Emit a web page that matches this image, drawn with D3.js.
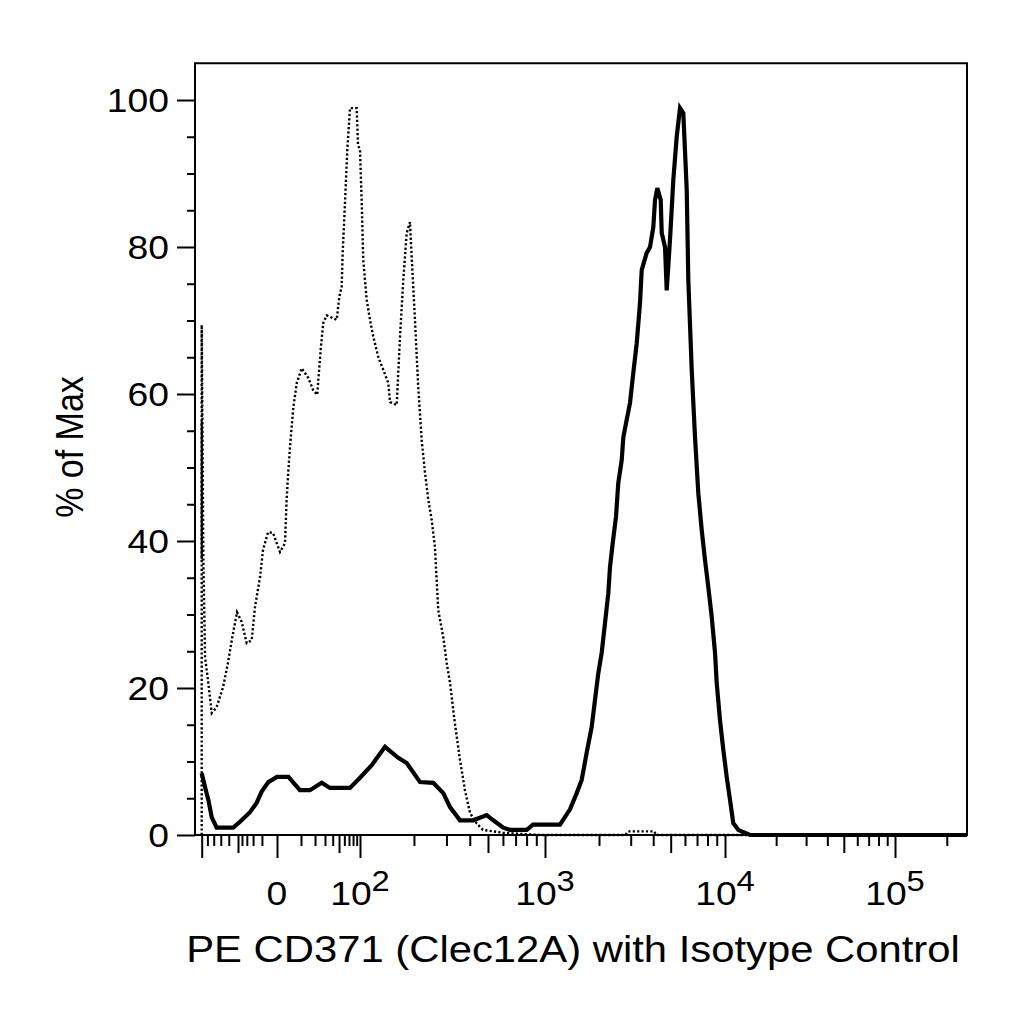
<!DOCTYPE html>
<html>
<head>
<meta charset="utf-8">
<script src="https://cdn.jsdelivr.net/npm/d3@7"></script>
<style>
  body { margin: 0; background: #fff; }
  text { font-family: "Liberation Sans", Arial, sans-serif; fill: #000; }
</style>
</head>
<body>
<svg id="chart" width="1024" height="1024"></svg>
<script>
// ---------------- data ----------------
// x = PE fluorescence intensity, y = % of max
const isotypeHistogram = [
  [-100, 0], [-100, 69.4], [-97, 37.5], [-94, 24.2], [-88.5, 20.7], [-83, 16.6], [-75.7, 17.4],
  [-67, 20.1], [-61, 23.4], [-56, 26.9], [-51, 30.3], [-40.6, 29.0], [-30.2, 26.1], [-22, 26.5],
  [-17.5, 31.0], [-11.8, 35.1], [-9.0, 38.8], [-5.1, 41.2], [-2.0, 41.1], [0.9, 38.5], [2.6, 39.7],
  [3.2, 45.6], [3.9, 49.7], [4.6, 53.0], [6.0, 58.1], [7.7, 61.5], [10.4, 63.5], [14.7, 62.2],
  [18.5, 60.5], [22.0, 59.9], [23.0, 61.9], [25.3, 66.0], [28.1, 69.7], [32.0, 70.7], [46.1, 70.1],
  [50.5, 73.2], [54.8, 74.6], [56.7, 79.2], [61.3, 86.0], [66.2, 93.2], [72.4, 98.9], [89.9, 98.9],
  [93.8, 93.9], [100, 93.2], [102.3, 86.0], [104.4, 78.2], [109.2, 72.8], [114, 70.1], [119, 67.8],
  [127, 65.0], [135.4, 63.3], [144.4, 61.5], [147.6, 58.9], [160.8, 58.5], [164, 62.9], [167.7, 67.8],
  [174.8, 75.5], [182.5, 81.9], [190.3, 83.4], [194.4, 78.6], [202.6, 70.1], [211, 61.0], [220.4, 53.7],
  [229.7, 49.3], [239.4, 45.6], [249.7, 42.9], [260, 39.2], [271, 30.6], [288.5, 26.9], [301, 23.4],
  [313.5, 20.7], [333, 15.2], [354.6, 10.2], [377, 6.1], [401, 3.0], [435, 1.6], [470, 0.7],
  [600, 0.3], [941, 0], [2800, 0], [2900, 0.5], [4050, 0.5], [4150, 0], [262144, 0]
];

const cd371Histogram = [
  [-100, 8.4], [-94, 6.5], [-88.5, 4.8], [-83, 2.4], [-75.7, 1.0], [-55, 1.0], [-44.7, 1.8],
  [-24.6, 3.1], [-15.4, 4.4], [-10.2, 5.9], [-4.9, 7.2], [0, 7.9], [3.9, 7.9], [9.4, 6.1], [15.9, 6.1],
  [26.4, 7.1], [36.2, 6.4], [72.4, 6.4], [100, 7.8], [116.6, 9.5], [138.4, 12.0], [164, 10.5],
  [182.5, 9.8], [215.8, 7.2], [254.8, 7.1], [288.5, 5.7], [313.5, 3.8], [354.6, 2.0], [417.7, 2.0],
  [492, 2.7], [533.5, 2.0], [602.5, 1.0], [654, 0.7], [801, 0.7], [864.5, 1.4], [1213, 1.4],
  [1379, 3.5], [1503, 5.7], [1602, 7.5], [1708, 11.2], [1821, 14.7], [1900, 18.4], [1982, 22.0],
  [2070, 24.8], [2159, 28.8], [2253, 32.9], [2303, 36.5], [2383, 39.7], [2486, 43.3], [2560, 47.9],
  [2674, 51.0], [2730, 54.1], [2851, 56.5], [2974, 58.8], [3102, 62.9], [3240, 66.9], [3379, 72.4],
  [3454, 76.9], [3681, 79.2], [3840, 80.0], [4005, 82.7], [4094, 86.4], [4216, 88.0], [4403, 86.4],
  [4459, 81.9], [4651, 80.0], [4753, 74.1], [4957, 81.0], [5170, 89.1], [5400, 95.0], [5632, 98.9],
  [5875, 98.2], [6136, 87.8], [6262, 75.5], [6540, 63.3], [6822, 54.1], [7115, 46.5], [7430, 41.5],
  [7750, 37.4], [8083, 33.7], [8440, 29.7], [8805, 24.8], [8996, 20.7], [9383, 15.6], [9787, 11.6],
  [10233, 7.9], [10700, 4.8], [11190, 1.6], [11970, 0.7], [12760, 0.4], [14030, 0], [262144, 0]
];

// visible solid part of the off-scale first bin of the CD371 sample
const cd371FirstBin = [[-100, 37.5], [-100, 56.3]];

// axes
const xDomainMin = -113, xDomainMax = 262144;
const yDomain = [0, 105];
const xMajorTicks = [-100, 0, 100, 1000, 10000, 100000];
const xMediumTicks = [-50, 50, 500, 5000, 50000];
const xMinorTicks = [-90, -80, -70, -60, -40, -30, -20, -10,
  10, 20, 30, 40, 60, 70, 80, 90,
  200, 300, 400, 600, 700, 800, 900,
  2000, 3000, 4000, 6000, 7000, 8000, 9000,
  20000, 30000, 40000, 60000, 70000, 80000, 90000, 200000];
const xLabelValues = [0, 100, 1000, 10000, 100000];
const xLabelBase = ["0", "10", "10", "10", "10"];
const xLabelExp = ["", "2", "3", "4", "5"];
const yMajorTicks = [0, 20, 40, 60, 80, 100];
const yMinorTicks = [5, 10, 15, 25, 30, 35, 45, 50, 55, 65, 70, 75, 85, 90, 95];
const xTitle = "PE CD371 (Clec12A) with Isotype Control";
const yTitle = "% of Max";

// ---------------- scales ----------------
const X_STRETCH = 1.13;
const svg = d3.select("#chart");

const x = d3.scaleSymlog().constant(10)
  .domain([-100, -50, 0, 100, 1000, 10000, 100000, 262144])
  .range([201.7, 238, 277, 360, 545, 725, 895, 967]);
const y = d3.scaleLinear().domain(yDomain).range([835, 63.25]);

const plotLeft = x(xDomainMin), plotRight = x(xDomainMax);
const plotTop = y(yDomain[1]), plotBottom = y(0);

// ---------------- curves ----------------
const line = d3.line().x(d => x(d[0])).y(d => y(d[1]));

svg.append("path").datum(isotypeHistogram)
  .attr("d", line).attr("fill", "none").attr("stroke", "#000")
  .attr("stroke-width", 2.4).attr("stroke-dasharray", "2.2,2.2");

svg.append("path").datum(cd371FirstBin)
  .attr("d", line).attr("fill", "none").attr("stroke", "#000")
  .attr("stroke-width", 2);

svg.append("path").datum(cd371Histogram)
  .attr("d", line).attr("fill", "none").attr("stroke", "#000")
  .attr("stroke-width", 4.2).attr("stroke-linejoin", "miter");

// ---------------- frame ----------------
svg.append("rect")
  .attr("x", plotLeft).attr("y", plotTop)
  .attr("width", plotRight - plotLeft).attr("height", plotBottom - plotTop)
  .attr("fill", "none").attr("stroke", "#000").attr("stroke-width", 2);

// ---------------- axes (tick marks) ----------------
function tickAxis(axis, values, size, tx, ty) {
  const g = svg.append("g").attr("transform", `translate(${tx},${ty})`)
    .call(axis.tickValues(values).tickSize(size).tickSizeOuter(0).tickFormat(""));
  g.select(".domain").remove();
  g.selectAll(".tick line").attr("stroke", "#000").attr("stroke-width", 2);
}
tickAxis(d3.axisBottom(x), xMajorTicks, 23, 0, plotBottom);
tickAxis(d3.axisBottom(x), xMediumTicks, 18, 0, plotBottom);
tickAxis(d3.axisBottom(x), xMinorTicks, 11, 0, plotBottom);
tickAxis(d3.axisLeft(y), yMajorTicks, 18, plotLeft, 0);
tickAxis(d3.axisLeft(y), yMinorTicks, 8, plotLeft, 0);

// ---------------- tick labels ----------------
svg.selectAll("text.ylab").data(yMajorTicks).join("text")
  .attr("class", "ylab")
  .attr("transform", d => `translate(169,${y(d) + 12}) scale(${X_STRETCH},1)`)
  .attr("text-anchor", "end").attr("font-size", 33)
  .text(d => d);

const xl = svg.selectAll("text.xlab").data(xLabelValues).join("text")
  .attr("class", "xlab")
  .attr("transform", d => `translate(${x(d)},905) scale(${X_STRETCH},1)`)
  .attr("text-anchor", "middle").attr("font-size", 33);
xl.append("tspan").text((d, i) => xLabelBase[i]);
xl.append("tspan").attr("dy", -14).attr("font-size", 29).text((d, i) => xLabelExp[i]);

// ---------------- titles ----------------
svg.append("text")
  .attr("transform", `translate(${(plotLeft + plotRight) / 2 - 8},962) scale(${X_STRETCH},1)`)
  .attr("text-anchor", "middle").attr("font-size", 37)
  .text(xTitle);

svg.append("text")
  .attr("transform", `translate(83,447) scale(${X_STRETCH},1) rotate(-90)`)
  .attr("text-anchor", "middle").attr("font-size", 34)
  .text(yTitle);
</script>
</body>
</html>
